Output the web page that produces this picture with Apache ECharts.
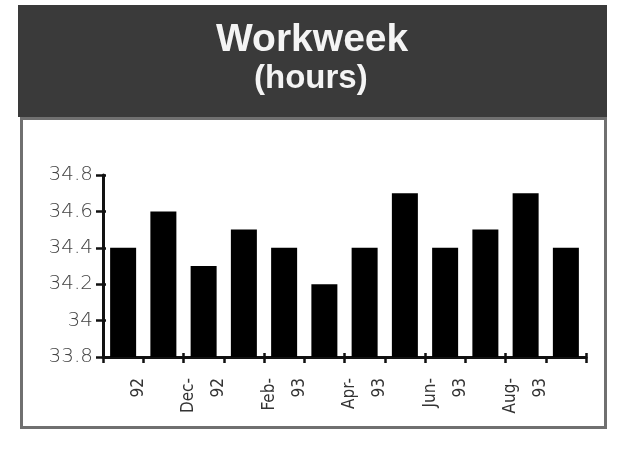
<!DOCTYPE html>
<html><head><meta charset="utf-8">
<script src="https://cdn.jsdelivr.net/npm/echarts@6/dist/echarts.min.js"></script>
<style>html,body{margin:0;padding:0;background:#fff}#c{width:622px;height:449px}</style>
</head><body><div id="c"></div>
<script>
const months = ["Oct-92","Nov-92","Dec-92","Jan-93","Feb-93","Mar-93","Apr-93","May-93","Jun-93","Jul-93","Aug-93","Sep-93"];
const hours = [34.4, 34.6, 34.3, 34.5, 34.4, 34.2, 34.4, 34.7, 34.4, 34.5, 34.7, 34.4];
const tickLabels = [" \n92", "", "Dec-\n92", "", "Feb-\n93", "", "Apr-\n93", "", "Jun-\n93", "", "Aug-\n93", ""];
const yTicks = [33.8, 34, 34.2, 34.4, 34.6, 34.8];
const titleLine1 = "Workweek";
const titleLine2 = "(hours)";

const chart = echarts.init(document.getElementById('c'), null, {renderer: 'canvas'});
const tickStyle = {color: '#111', width: 2.5};
chart.setOption({
  animation: false,
  backgroundColor: '#ffffff',
  graphic: [
    {type: 'rect', left: 18, top: 5, shape: {width: 589, height: 112}, style: {fill: '#3a3a3a'}, z: 0},
    {type: 'rect', left: 20, top: 117, shape: {width: 584, height: 309}, style: {fill: '#ffffff', stroke: '#707070', lineWidth: 3}, z: 0},
    {type: 'text', left: 216, top: 21, style: {text: titleLine1, fill: '#f4f4f4', font: 'bold 39px "Liberation Sans", Arial, sans-serif'}, z: 5},
    {type: 'text', left: 254, top: 62, style: {text: titleLine2, fill: '#f4f4f4', font: 'bold 33px "Liberation Sans", Arial, sans-serif'}, z: 5}
  ],
  grid: {left: 103, right: 36, top: 175, bottom: 92, containLabel: false},
  xAxis: [{
    type: 'category',
    data: months,
    boundaryGap: true,
    position: 'bottom',
    axisLine: {lineStyle: {color: '#111', width: 3}},
    axisTick: {show: true, alignWithLabel: false, length: 6, lineStyle: tickStyle},
    axisLabel: {
      interval: 0, rotate: 90, margin: 21,
      fontFamily: '"DejaVu Sans Condensed", "DejaVu Sans", sans-serif',
      fontSize: 17, color: '#333', lineHeight: 30,
      formatter: (v, i) => tickLabels[i]
    },
    splitLine: {show: false}
  }, {
    type: 'category',
    data: months,
    boundaryGap: true,
    position: 'bottom',
    axisLine: {show: false},
    axisTick: {show: true, inside: true, length: 4, lineStyle: tickStyle},
    axisLabel: {show: false},
    splitLine: {show: false}
  }],
  yAxis: [{
    type: 'value',
    min: yTicks[0], max: yTicks[yTicks.length - 1], interval: 0.2,
    position: 'left',
    axisLine: {show: true, lineStyle: {color: '#111', width: 3}},
    axisTick: {show: true, length: 7, lineStyle: tickStyle},
    axisLabel: {
      margin: 10, fontFamily: '"DejaVu Sans", sans-serif', fontSize: 20, fontWeight: 300, color: '#444',
      formatter: v => String(+v.toFixed(1))
    },
    splitLine: {show: false}
  }, {
    type: 'value',
    min: yTicks[0], max: yTicks[yTicks.length - 1], interval: 0.2,
    position: 'left',
    axisLine: {show: false},
    axisTick: {show: true, inside: true, length: 3, lineStyle: tickStyle},
    axisLabel: {show: false},
    splitLine: {show: false}
  }],
  series: [{
    type: 'bar',
    data: hours,
    barWidth: 26,
    xAxisIndex: 0,
    yAxisIndex: 0,
    itemStyle: {color: '#000'},
    z: 3
  }]
});
</script></body></html>
